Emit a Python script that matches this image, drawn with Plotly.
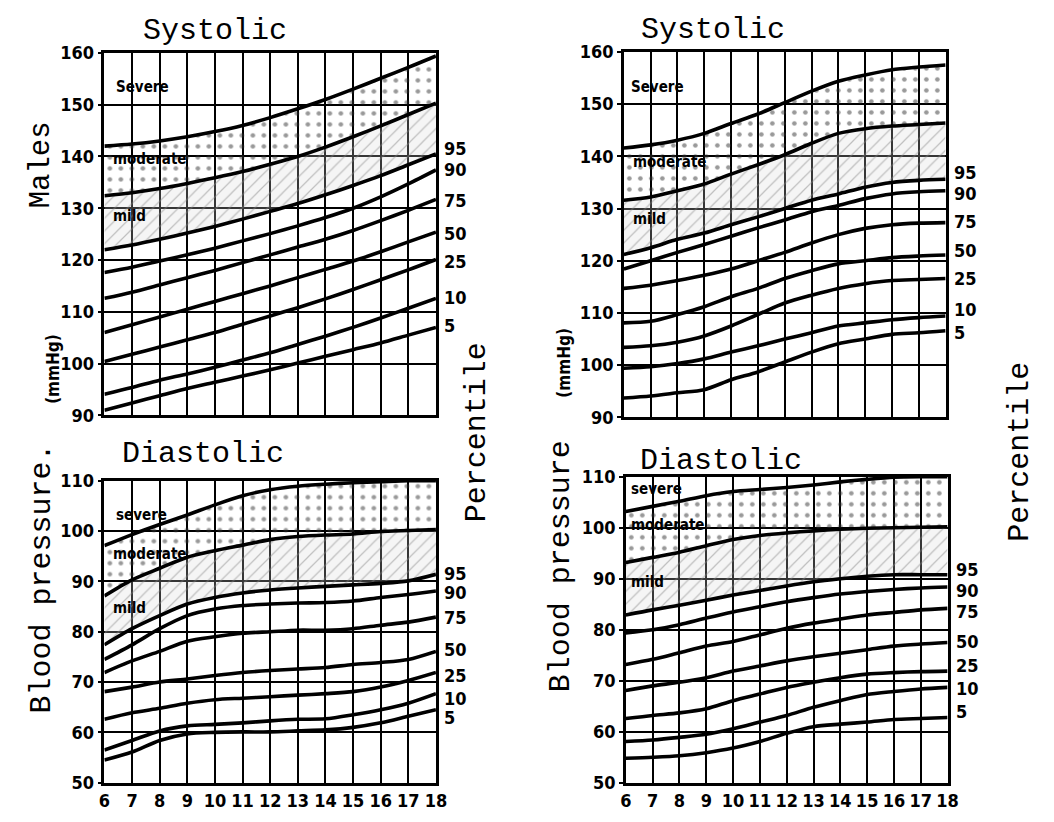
import plotly.graph_objects as go

ages = list(range(6, 19))
pct_names = ["95", "90", "75", "50", "25", "10", "5"]
sys_ticks = [90, 100, 110, 120, 130, 140, 150, 160]
dia_ticks = [50, 60, 70, 80, 90, 100, 110]

# ---- Males, systolic (mmHg) ----
ms_severe   = [142.0, 142.4, 143.0, 143.8, 144.8, 146.0, 147.5, 149.2, 151.0, 153.0, 155.1, 157.2, 159.4]
ms_moderate = [132.4, 133.0, 133.8, 134.8, 135.9, 137.1, 138.5, 140.0, 141.8, 143.8, 145.9, 148.1, 150.3]
ms_p95 = [122.0, 122.9, 124.0, 125.2, 126.5, 127.9, 129.4, 130.9, 132.6, 134.4, 136.3, 138.4, 140.5]
ms_p90 = [117.6, 118.6, 119.8, 121.0, 122.3, 123.7, 125.1, 126.6, 128.2, 130.0, 132.2, 134.7, 137.4]
ms_p75 = [112.6, 113.8, 115.2, 116.6, 118.0, 119.5, 121.0, 122.5, 124.0, 125.7, 127.6, 129.6, 131.7]
ms_p50 = [106.0, 107.5, 109.0, 110.5, 112.0, 113.5, 115.0, 116.6, 118.2, 119.8, 121.6, 123.5, 125.4]
ms_p25 = [100.4, 101.8, 103.2, 104.6, 106.0, 107.6, 109.2, 110.8, 112.5, 114.3, 116.2, 118.1, 120.1]
ms_p10 = [94.1, 95.4, 96.8, 98.0, 99.3, 100.7, 102.1, 103.7, 105.3, 107.0, 108.8, 110.7, 112.6]
ms_p5  = [91.0, 92.4, 93.8, 95.2, 96.4, 97.6, 98.8, 100.1, 101.4, 102.7, 104.0, 105.5, 107.0]

# ---- Males, diastolic ----
md_severe   = [97.1, 99.3, 101.3, 103.2, 105.2, 107.0, 108.2, 108.9, 109.3, 109.6, 109.8, 110.0, 110.0]
md_moderate = [87.1, 90.3, 92.6, 94.8, 96.1, 97.2, 98.3, 98.9, 99.2, 99.4, 99.9, 100.1, 100.3]
md_p95 = [77.4, 80.6, 83.2, 85.5, 86.8, 87.7, 88.3, 88.7, 89.0, 89.3, 89.6, 90.1, 91.4]
md_p90 = [74.5, 77.4, 80.6, 83.2, 84.5, 85.2, 85.5, 85.7, 85.8, 86.1, 86.8, 87.4, 88.1]
md_p75 = [71.9, 74.2, 76.1, 78.1, 79.0, 79.7, 80.0, 80.3, 80.3, 80.6, 81.3, 81.9, 82.9]
md_p50 = [68.1, 69.0, 70.0, 70.6, 71.3, 71.9, 72.3, 72.6, 72.9, 73.5, 73.9, 74.5, 76.1]
md_p25 = [62.6, 63.9, 64.8, 65.8, 66.5, 66.8, 67.1, 67.4, 67.7, 68.1, 69.0, 70.3, 71.9]
md_p10 = [56.5, 58.4, 60.3, 61.3, 61.6, 61.9, 62.3, 62.6, 62.7, 63.5, 64.5, 65.8, 67.7]
md_p5  = [54.5, 56.1, 58.4, 59.7, 60.0, 60.1, 60.1, 60.3, 60.5, 61.0, 61.9, 63.2, 64.5]

# ---- Females, systolic ----
fs_severe   = [141.6, 142.2, 143.1, 144.4, 146.3, 148.1, 150.3, 152.5, 154.4, 155.6, 156.6, 157.1, 157.5]
fs_moderate = [131.6, 132.2, 133.4, 134.7, 136.6, 138.4, 140.3, 142.5, 144.4, 145.3, 145.8, 146.1, 146.4]
fs_p95 = [121.2, 122.5, 124.1, 125.3, 126.9, 128.4, 130.0, 131.6, 132.8, 134.1, 135.0, 135.4, 135.6]
fs_p90 = [118.4, 120.0, 121.6, 123.1, 124.7, 126.3, 127.8, 129.4, 130.6, 131.9, 132.8, 133.2, 133.4]
fs_p75 = [114.7, 115.3, 116.2, 117.2, 118.4, 120.0, 121.6, 123.4, 125.0, 126.2, 126.9, 127.2, 127.3]
fs_p50 = [108.1, 108.4, 109.7, 111.2, 113.1, 114.7, 116.6, 118.1, 119.4, 120.0, 120.6, 120.9, 121.1]
fs_p25 = [103.4, 103.7, 104.4, 105.6, 107.5, 109.7, 111.9, 113.4, 114.7, 115.6, 116.2, 116.4, 116.6]
fs_p10 = [99.4, 99.7, 100.3, 101.2, 102.5, 103.7, 105.0, 106.2, 107.5, 108.1, 108.7, 109.1, 109.4]
fs_p5  = [93.7, 94.1, 94.7, 95.3, 97.2, 98.7, 100.6, 102.5, 104.1, 105.0, 105.9, 106.2, 106.6]

# ---- Females, diastolic ----
fd_severe   = [103.2, 104.2, 105.2, 106.3, 107.1, 107.5, 107.9, 108.4, 109.0, 109.5, 109.9, 110.0, 110.0]
fd_moderate = [93.2, 94.2, 95.2, 96.5, 97.7, 98.5, 99.0, 99.4, 99.7, 99.9, 100.0, 100.1, 100.2]
fd_p95 = [82.9, 83.9, 84.8, 85.8, 86.8, 87.7, 88.6, 89.4, 90.0, 90.5, 90.8, 90.8, 90.8]
fd_p90 = [79.4, 80.0, 81.0, 82.3, 83.5, 84.5, 85.5, 86.3, 87.0, 87.5, 87.9, 88.2, 88.4]
fd_p75 = [73.2, 74.2, 75.5, 76.8, 77.7, 79.0, 80.3, 81.3, 82.1, 82.9, 83.4, 83.9, 84.2]
fd_p50 = [68.1, 69.0, 69.7, 70.6, 71.9, 72.9, 73.9, 74.7, 75.4, 76.1, 76.8, 77.2, 77.5]
fd_p25 = [62.6, 63.2, 63.7, 64.5, 66.1, 67.4, 68.7, 69.7, 70.6, 71.3, 71.6, 71.8, 71.9]
fd_p10 = [58.1, 58.4, 58.9, 59.5, 60.6, 61.9, 63.2, 64.8, 66.1, 67.3, 67.9, 68.4, 68.7]
fd_p5  = [54.8, 55.0, 55.3, 55.9, 56.8, 58.1, 59.7, 61.0, 61.5, 61.9, 62.4, 62.6, 62.8]

# percentile label heights at the right edge of each panel
ms_label_y = [141.6, 137.5, 131.5, 125.2, 119.8, 112.8, 107.3]
md_label_y = [91.6, 87.7, 82.9, 76.5, 71.3, 66.8, 62.9]
fs_label_y = [136.9, 132.8, 127.5, 121.9, 116.6, 110.6, 106.3]
fd_label_y = [91.9, 87.7, 83.5, 77.7, 72.9, 68.4, 63.9]

W, H = 1054, 822
def px(x):
    return x / W
def py(y):
    return 1 - y / H

MONO = "Liberation Mono, Courier New, monospace"
NARROW = "Liberation Sans Narrow, DejaVu Sans Condensed, Arial Narrow, sans-serif"

panels = [
    dict(ax="", box=(100, 437, 43, 415), rng=[90, 160], ticks=sys_ticks, xlab=False,
         severe=ms_severe, moderate=ms_moderate,
         pcts=[ms_p95, ms_p90, ms_p75, ms_p50, ms_p25, ms_p10, ms_p5], laby=ms_label_y,
         bands=[("Severe", 6.33, 153.4), ("moderate", 6.25, 139.6), ("mild", 6.25, 128.6)]),
    dict(ax="2", box=(100, 437, 482, 792), rng=[50, 110], ticks=dia_ticks, xlab=True,
         severe=md_severe, moderate=md_moderate,
         pcts=[md_p95, md_p90, md_p75, md_p50, md_p25, md_p10, md_p5], laby=md_label_y,
         bands=[("severe", 6.33, 103.2), ("moderate", 6.25, 95.5), ("mild", 6.25, 84.8)]),
    dict(ax="3", box=(628, 955, 42, 417), rng=[90, 160], ticks=sys_ticks, xlab=False,
         severe=fs_severe, moderate=fs_moderate,
         pcts=[fs_p95, fs_p90, fs_p75, fs_p50, fs_p25, fs_p10, fs_p5], laby=fs_label_y,
         bands=[("Severe", 6.2, 153.3), ("moderate", 6.25, 139.0), ("mild", 6.25, 128.0)]),
    dict(ax="4", box=(630, 957, 478, 792), rng=[50, 110], ticks=dia_ticks, xlab=True,
         severe=fd_severe, moderate=fd_moderate,
         pcts=[fd_p95, fd_p90, fd_p75, fd_p50, fd_p25, fd_p10, fd_p5], laby=fd_label_y,
         bands=[("severe", 6.12, 107.6), ("moderate", 6.12, 100.6), ("mild", 6.12, 89.4)]),
]

fig = go.Figure()
annotations = []
layout = {}

for p in panels:
    xa, ya = "x" + p["ax"], "y" + p["ax"]
    line = dict(color="black", width=3.6, shape="spline", smoothing=0.8)
    fig.add_trace(go.Scatter(x=ages, y=p["severe"], xaxis=xa, yaxis=ya, mode="lines",
                             line=line, showlegend=False, hoverinfo="skip"))
    fig.add_trace(go.Scatter(x=ages, y=p["moderate"], xaxis=xa, yaxis=ya, mode="lines",
                             line=line, fill="tonexty",
                             fillpattern=dict(shape=".", fgcolor="#333333", bgcolor="rgba(0,0,0,0)",
                                              size=11, solidity=0.14),
                             showlegend=False, hoverinfo="skip"))
    for i, vals in enumerate(p["pcts"]):
        kw = {}
        if i == 0:
            kw = dict(fill="tonexty",
                      fillpattern=dict(shape="/", fgcolor="#8a8a8a", bgcolor="rgba(215,215,215,0.25)",
                                       size=9, solidity=0.14))
        fig.add_trace(go.Scatter(x=ages, y=vals, xaxis=xa, yaxis=ya, mode="lines",
                                 line=line, showlegend=False, hoverinfo="skip", **kw))
    x0, x1, y0, y1 = p["box"]
    xkey = "xaxis" + p["ax"]
    ykey = "yaxis" + p["ax"]
    layout[xkey] = dict(domain=[px(x0), px(x1)], range=[6, 18], anchor=ya,
                        tickmode="array", tickvals=ages, ticktext=[str(a) for a in ages],
                        showticklabels=p["xlab"], ticks="",
                        tickfont=dict(family=NARROW, size=18, color="black", weight="bold"),
                        showgrid=True, gridcolor="black", gridwidth=1.8,
                        showline=True, linecolor="black", linewidth=2.6, mirror=True,
                        zeroline=False, fixedrange=True)
    layout[ykey] = dict(domain=[py(y1), py(y0)], range=p["rng"], anchor=xa,
                        tickmode="array", tickvals=p["ticks"], ticktext=[str(t) for t in p["ticks"]],
                        ticks="outside", ticklen=4, tickwidth=2, tickcolor="black",
                        tickfont=dict(family=NARROW, size=18, color="black", weight="bold"),
                        showgrid=True, gridcolor="black", gridwidth=1.8,
                        showline=True, linecolor="black", linewidth=2.6, mirror=True,
                        zeroline=False, fixedrange=True)
    for name, yv in zip(pct_names, p["laby"]):
        annotations.append(dict(x=18, y=yv, xref=xa, yref=ya, text=name, showarrow=False,
                                xanchor="left", xshift=6,
                                font=dict(family=NARROW, size=18, color="black", weight="bold")))
    for txt, xv, yv in p["bands"]:
        annotations.append(dict(x=xv, y=yv, xref=xa, yref=ya, text=txt, showarrow=False,
                                xanchor="left",
                                font=dict(family=NARROW, size=15, color="black", weight="bold")))

def text_ann(txt, x, y, size, angle=0, bold=False, family=MONO):
    f = dict(family=family, size=size, color="black")
    if bold:
        f["weight"] = "bold"
    return dict(x=px(x), y=py(y), xref="paper", yref="paper", text=txt, showarrow=False,
                textangle=angle, xanchor="center", yanchor="middle", font=f)

annotations += [
    text_ann("Systolic", 212, 21, 30),
    text_ann("Systolic", 719, 19, 30),
    text_ann("Diastolic", 200, 455, 30),
    text_ann("Diastolic", 727, 462, 30),
    text_ann("Males", 37, 158, 29, -90),
    text_ann("(mmHg)", 47, 367, 17, -90, bold=True, family=NARROW),
    text_ann("Blood pressure.", 37, 582, 30, -90),
    text_ann("Percentile", 479, 432, 30, -90),
    text_ann("(mmHg)", 567, 361, 17, -90, bold=True, family=NARROW),
    text_ann("Blood pressure", 565, 570, 30, -90),
    text_ann("Percentile", 1031, 452, 30, -90),
]

fig.update_layout(width=W, height=H, margin=dict(l=0, r=0, t=0, b=0),
                  paper_bgcolor="white", plot_bgcolor="white",
                  showlegend=False, annotations=annotations, **layout)

fig.write_html("out.html", config={"displayModeBar": False})
